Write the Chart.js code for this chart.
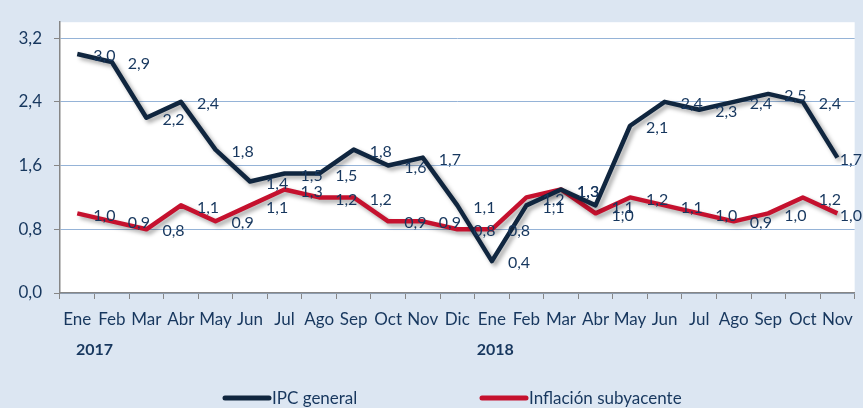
<!DOCTYPE html>
<html><head><meta charset="utf-8">
<script src="https://cdn.jsdelivr.net/npm/chart.js@4"></script>
<style>html,body{margin:0;padding:0;background:#dce6f2;overflow:hidden}canvas{display:block}</style>
</head><body>
<canvas id="c" width="863" height="408"></canvas>
<script>
const categories = ['Ene','Feb','Mar','Abr','May','Jun','Jul','Ago','Sep','Oct','Nov','Dic','Ene','Feb','Mar','Abr','May','Jun','Jul','Ago','Sep','Oct','Nov'];
const years = ['2017','2018'];
const yearIndex = [0.5, 12.1];
const ipcGeneral = [3.0,2.9,2.2,2.4,1.8,1.4,1.5,1.5,1.8,1.6,1.7,1.1,0.4,1.1,1.3,1.1,2.1,2.4,2.3,2.4,2.5,2.4,1.7];
const inflacionSubyacente = [1.0,0.9,0.8,1.1,0.9,1.1,1.3,1.2,1.2,0.9,0.9,0.8,0.8,1.2,1.3,1.0,1.2,1.1,1.0,0.9,1.0,1.2,1.0];
const yTicks = [0,0.8,1.6,2.4,3.2];
const seriesNames = ['IPC general','Inflación subyacente'];

const NAVY = '#10263f', RED = '#c5112e', TXT = '#17375e', AXIS = '#868686', GRID = '#95b3d7';
const FONT = 'Lato, "Open Sans", sans-serif';
const fmt = v => v.toFixed(1).replace('.', ',');

const decor = {
  id: 'decor',
  beforeDraw(chart) {
    const {ctx, chartArea: a} = chart;
    ctx.save();
    ctx.fillStyle = '#ffffff';
    ctx.fillRect(a.left, a.top, a.right - a.left, a.bottom - a.top);
    ctx.restore();
  },
  beforeDatasetDraw(chart) {
    const ctx = chart.ctx;
    ctx.save();
    ctx.shadowColor = 'rgba(0,0,0,0.35)';
    ctx.shadowBlur = 4;
    ctx.shadowOffsetX = 3;
    ctx.shadowOffsetY = 3;
  },
  afterDatasetDraw(chart) { chart.ctx.restore(); },
  afterDatasetsDraw(chart) {
    const ctx = chart.ctx;
    ctx.save();
    ctx.fillStyle = TXT;
    ctx.font = '16px ' + FONT;
    ctx.textAlign = 'left';
    ctx.textBaseline = 'middle';
    for (let d = chart.data.datasets.length - 1; d >= 0; d--) {
      const meta = chart.getDatasetMeta(d);
      const vals = chart.data.datasets[d].data;
      meta.data.forEach((pt, i) => {
        const t = fmt(vals[i]);
        const w = ctx.measureText(t).width;
        const x = Math.min(pt.x + 16, chart.width - w - 1);
        ctx.fillText(t, x, pt.y + 2);
      });
    }
    // years
    const xs = chart.scales.x;
    ctx.font = 'bold 16px ' + FONT;
    ctx.textAlign = 'center';
    years.forEach((y, i) => ctx.fillText(y, xs.getPixelForValue(yearIndex[i]), 350));
    // legend
    const items = [{x: 225, c: NAVY}, {x: 482, c: RED}];
    ctx.font = '17px ' + FONT;
    ctx.textAlign = 'left';
    items.forEach((it, i) => {
      ctx.strokeStyle = it.c;
      ctx.lineWidth = 5;
      ctx.lineCap = 'round';
      ctx.beginPath();
      ctx.moveTo(it.x, 398);
      ctx.lineTo(it.x + 44, 398);
      ctx.stroke();
      ctx.fillText(chart.data.datasets[i].label, it.x + 47, 399);
    });
    ctx.restore();
  }
};

new Chart(document.getElementById('c'), {
  type: 'line',
  data: {
    labels: categories,
    datasets: [
      {label: seriesNames[0], data: ipcGeneral, borderColor: NAVY, borderWidth: 4.5, pointRadius: 0, tension: 0, fill: false, borderJoinStyle: 'round'},
      {label: seriesNames[1], data: inflacionSubyacente, borderColor: RED, borderWidth: 4.5, pointRadius: 0, tension: 0, fill: false, borderJoinStyle: 'round'}
    ]
  },
  options: {
    responsive: false,
    animation: false,
    layout: {padding: {top: 9, right: 8, left: 0, bottom: 0}},
    plugins: {legend: {display: false}, tooltip: {enabled: false}},
    scales: {
      x: {
        type: 'category',
        offset: true,
        grid: {display: true, drawOnChartArea: false, drawTicks: true, tickLength: 6, color: AXIS, offset: true},
        border: {color: AXIS, width: 1.5},
        ticks: {color: TXT, font: {family: FONT, size: 17}, padding: 10, maxRotation: 0, autoSkip: false},
        afterFit(s) { s.height = 115; }
      },
      y: {
        min: 0, max: 3.4,
        afterBuildTicks(s) { s.ticks = yTicks.map(v => ({value: v})); },
        grid: {color: GRID, tickColor: AXIS, tickLength: 6, lineWidth: 1},
        border: {color: AXIS, width: 1.5},
        ticks: {color: TXT, font: {family: FONT, size: 17}, padding: 12, callback: v => fmt(v)},
        afterFit(s) { s.width = 60; }
      }
    }
  },
  plugins: [decor]
});
</script>
</body></html>
